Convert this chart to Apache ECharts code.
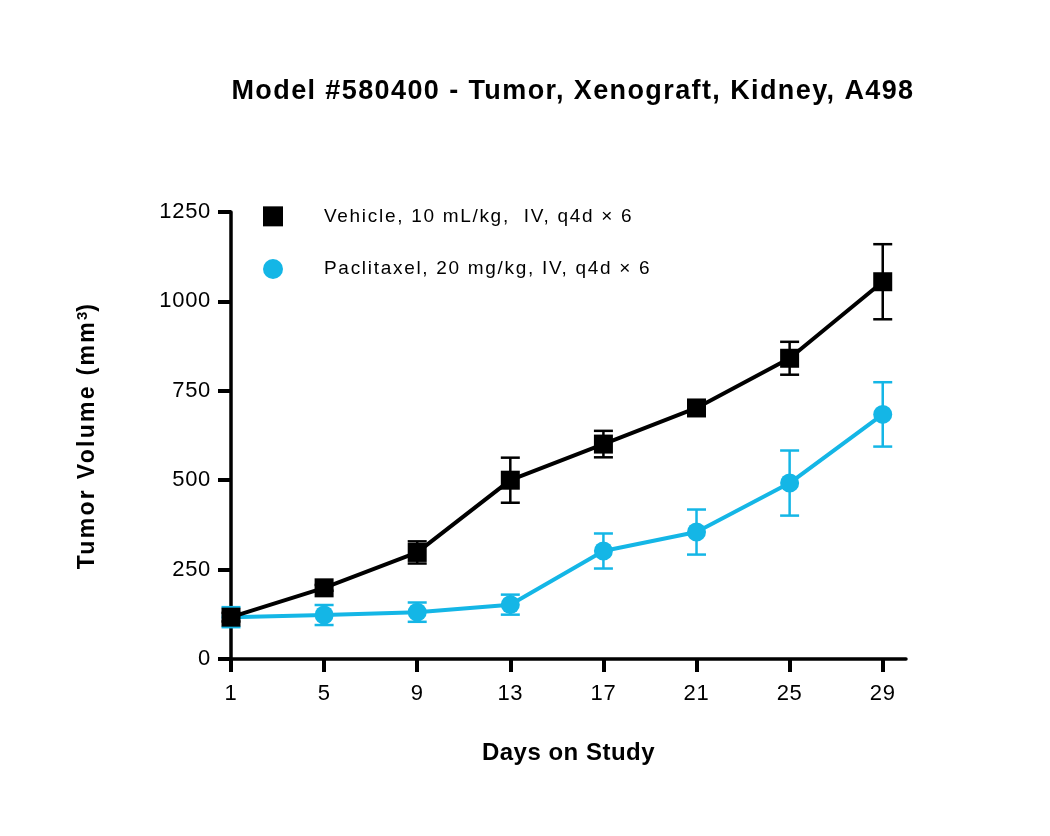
<!DOCTYPE html>
<html>
<head>
<meta charset="utf-8">
<script src="https://cdn.jsdelivr.net/npm/echarts@6/dist/echarts.min.js"></script>
<style>html,body{margin:0;padding:0;background:#fff}#c{width:1050px;height:836px}</style>
</head>
<body>
<div id="c"></div>
<script>
var days = [1, 5, 9, 13, 17, 21, 25, 29];
var xTicks = [1, 5, 9, 13, 17, 21, 25, 29];
var vehicleMean = [117, 199, 298, 500, 601, 702, 841, 1055];
var vehicleErr = [12, 8, 31, 63, 37, 8, 46, 105];
var paclitaxelMean = [117, 123, 131, 152, 302, 355, 492, 684];
var paclitaxelErr = [28, 28, 27, 28, 49, 63, 91, 90];
var seriesNames = ['Vehicle, 10 mL/kg,  IV, q4d \u00d7 6', 'Paclitaxel, 20 mg/kg, IV, q4d \u00d7 6'];

var BLACK = '#000000', CYAN = '#14b6e6';
var FONT = "'Liberation Sans', Arial, Helvetica, sans-serif";

// Letter spacing (tracking) to match the wide-set reference typography
(function () {
  var P = window.CanvasRenderingContext2D && CanvasRenderingContext2D.prototype;
  if (!P || !('letterSpacing' in P)) return;
  var map = { b27: 1.4, b23: 2.3, b24: 0.5, n19: 1.7, n22: 0.7 };
  function ls(ctx) {
    var f = ctx.font || '';
    var m = /(\d+(?:\.\d+)?)px/.exec(f);
    var key = (/bold|700/.test(f) ? 'b' : 'n') + (m ? Math.round(parseFloat(m[1])) : 12);
    var v = map[key] || 0;
    ctx.letterSpacing = v + 'px';
  }
  var ft = P.fillText, mt = P.measureText;
  P.fillText = function () { ls(this); return ft.apply(this, arguments); };
  P.measureText = function () { ls(this); return mt.apply(this, arguments); };
})();

function pairs(xs, ys) { return xs.map(function (x, i) { return [x, ys[i]]; }); }
function errData(xs, m, e) { return xs.map(function (x, i) { return [x, m[i] - e[i], m[i] + e[i]]; }); }

function errRender(color) {
  return function (params, api) {
    var lo = api.coord([api.value(0), api.value(1)]);
    var hi = api.coord([api.value(0), api.value(2)]);
    var w = 9.5;
    var st = { stroke: color, lineWidth: 2.5 };
    return {
      type: 'group',
      children: [
        { type: 'line', shape: { x1: lo[0], y1: lo[1], x2: hi[0], y2: hi[1] }, style: st },
        { type: 'line', shape: { x1: lo[0] - w, y1: lo[1], x2: lo[0] + w, y2: lo[1] }, style: st },
        { type: 'line', shape: { x1: hi[0] - w, y1: hi[1], x2: hi[0] + w, y2: hi[1] }, style: st }
      ]
    };
  };
}

var chart = echarts.init(document.getElementById('c'));
chart.setOption({
  backgroundColor: '#fff',
  animation: false,
  title: {
    text: 'Model #580400 - Tumor, Xenograft, Kidney, A498',
    left: 568, top: 72, textAlign: 'center',
    textStyle: { fontFamily: FONT, fontSize: 27, fontWeight: 'bold', color: '#000' }
  },
  legend: {
    orient: 'vertical', left: 258, top: 201, itemGap: 32,
    itemWidth: 20, itemHeight: 20,
    textStyle: { fontFamily: FONT, fontSize: 19, color: '#000', padding: [0, 0, 0, 36] },
    data: [
      { name: seriesNames[0], icon: 'rect', itemStyle: { color: BLACK } },
      { name: seriesNames[1], icon: 'circle', itemStyle: { color: CYAN } }
    ]
  },
  grid: { left: 231, right: 144, top: 212, bottom: 177, containLabel: false },
  xAxis: {
    type: 'value', min: 1, max: 30,
    name: 'Days on Study', nameLocation: 'middle', nameGap: 82,
    nameTextStyle: { fontFamily: FONT, fontSize: 24, fontWeight: 'bold', color: '#000', verticalAlign: 'top' },
    axisLine: { lineStyle: { color: '#000', width: 3.5 } },
    axisTick: { length: 13, lineStyle: { color: '#000', width: 4 }, customValues: xTicks },
    axisLabel: { fontFamily: FONT, fontSize: 22, color: '#000', margin: 24, customValues: xTicks },
    splitLine: { show: false }
  },
  yAxis: {
    type: 'value', min: 0, max: 1250, interval: 250,
    name: 'Tumor Volume (mm{sup|3})', nameLocation: 'middle', nameGap: 130,
    nameTextStyle: {
      fontFamily: FONT, fontSize: 23, fontWeight: 'bold', color: '#000',
      rich: { sup: { fontFamily: FONT, fontSize: 15, fontWeight: 'bold', color: '#000', verticalAlign: 'top', padding: [0, 0, 11, 0] } }
    },
    axisLine: { lineStyle: { color: '#000', width: 3.5 } },
    axisTick: { length: 13, lineStyle: { color: '#000', width: 4 } },
    axisLabel: { fontFamily: FONT, fontSize: 22, color: '#000', margin: 20, formatter: function (v) { return String(v); } },
    splitLine: { show: false }
  },
  series: [
    {
      type: 'custom', name: 'errV', renderItem: errRender(BLACK),
      data: errData(days, vehicleMean, vehicleErr), z: 2, silent: true,
      encode: { x: 0, y: [1, 2] }
    },
    {
      type: 'custom', name: 'errP', renderItem: errRender(CYAN),
      data: errData(days, paclitaxelMean, paclitaxelErr), z: 2, silent: true,
      encode: { x: 0, y: [1, 2] }
    },
    {
      type: 'line', name: seriesNames[0], data: pairs(days, vehicleMean),
      symbol: 'rect', symbolSize: 19, z: 4,
      lineStyle: { color: BLACK, width: 4 }, itemStyle: { color: BLACK }
    },
    {
      type: 'line', name: seriesNames[1], data: pairs(days, paclitaxelMean),
      symbol: 'circle', symbolSize: 19, z: 3,
      lineStyle: { color: CYAN, width: 4 }, itemStyle: { color: CYAN }
    }
  ]
});
</script>
</body>
</html>
